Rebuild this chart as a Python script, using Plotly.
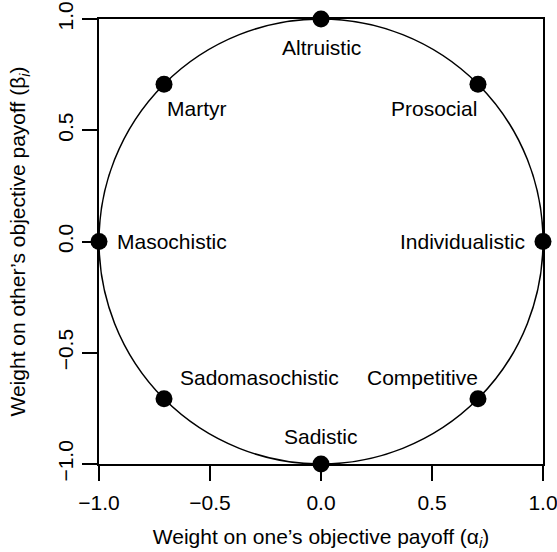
import plotly.graph_objects as go

# Social value orientations on the unit circle
alpha = [0.0, -0.7071, 0.7071, -1.0, 1.0, -0.7071, 0.7071, 0.0]
beta = [1.0, 0.7071, 0.7071, 0.0, 0.0, -0.7071, -0.7071, -1.0]
names = ["Altruistic", "Martyr", "Prosocial", "Masochistic", "Individualistic",
         "Sadomasochistic", "Competitive", "Sadistic"]
# where each label sits
label_x = [0.0, -0.56, 0.51, -0.93, 0.93, -0.275, 0.455, 0.0]
label_y = [0.87, 0.60, 0.60, 0.0, 0.0, -0.61, -0.61, -0.875]
label_anchor = ["center", "center", "center", "left", "right", "center", "center", "center"]

ticks = [-1.0, -0.5, 0.0, 0.5, 1.0]
tick_text = ["\u22121.0", "\u22120.5", "0.0", "0.5", "1.0"]

font = dict(family="Liberation Sans, Arial, sans-serif", color="black")
fsize = 21

fig = go.Figure()
fig.add_shape(type="circle", xref="x", yref="y", x0=-1, y0=-1, x1=1, y1=1,
              line=dict(color="black", width=1.5), layer="below")
fig.add_trace(go.Scatter(x=alpha, y=beta, mode="markers", cliponaxis=False,
                         marker=dict(size=17, color="black"), hoverinfo="skip"))

for tx, ty, txt, anc in zip(label_x, label_y, names, label_anchor):
    fig.add_annotation(x=tx, y=ty, text=txt, showarrow=False, xanchor=anc,
                       font=dict(size=fsize, **font))

axis_style = dict(range=[-1, 1], tickvals=ticks, ticktext=tick_text,
                  showgrid=False, zeroline=False, showline=True, mirror=True,
                  linecolor="black", linewidth=1.5, ticks="outside", ticklen=15,
                  tickwidth=1.5, tickcolor="black", tickfont=dict(size=fsize, **font),
                  automargin=False, ticklabeloverflow="allow")

fig.update_xaxes(**axis_style, ticklabelstandoff=4,
                 title=dict(text="Weight on one\u2019s objective payoff (\u03b1<sub><i>i</i></sub>)",
                            font=dict(size=fsize, **font), standoff=16))
fig.update_yaxes(**axis_style, tickangle=-90, ticklabelstandoff=1,
                 title=dict(text="Weight on other\u2019s objective payoff (\u03b2<sub><i>i</i></sub>)",
                            font=dict(size=fsize, **font), standoff=22))

fig.update_layout(width=557, height=552, showlegend=False,
                  plot_bgcolor="white", paper_bgcolor="white",
                  margin=dict(l=99, r=14, t=19, b=88))

# drop the default page margin so the figure sits at the window corner
fig.write_html("out.html", config={"displayModeBar": False},
               post_script="document.body.style.margin='0';")
